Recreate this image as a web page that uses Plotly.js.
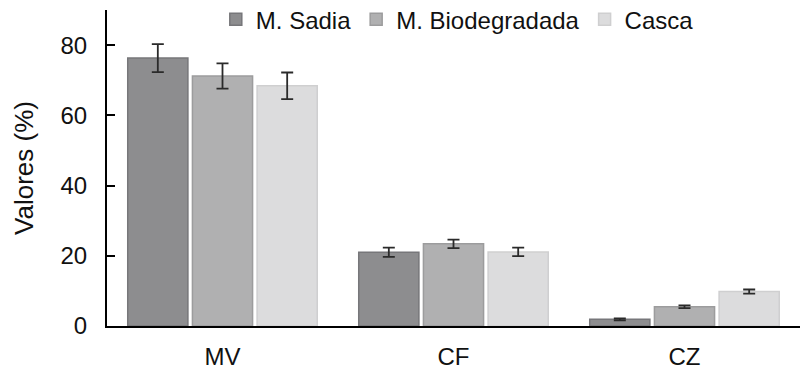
<!DOCTYPE html>
<html><head><meta charset="utf-8">
<script src="https://cdn.plot.ly/plotly-3.0.1.min.js"></script>
<style>body{margin:0;background:#fff}#c{width:810px;height:369px}</style>
</head><body><div id="c"></div>
<script>
const categories = ["MV", "CF", "CZ"];
const seriesNames = ["M. Sadia", "M. Biodegradada", "Casca"];
const sadia = [76.3, 21.0, 1.9];
const sadiaErr = [4.0, 1.3, 0.3];
const biod = [71.2, 23.4, 5.5];
const biodErr = [3.6, 1.2, 0.4];
const casca = [68.4, 21.1, 9.8];
const cascaErr = [3.8, 1.2, 0.6];

const fills = ["#8d8d8f", "#b0b0b1", "#dcdcdd"];
const lines = ["#77777a", "#9c9c9d", "#cfcfd0"];
const vals = [sadia, biod, casca];
const errs = [sadiaErr, biodErr, cascaErr];

const traces = seriesNames.map((n, i) => ({
  type: "bar", name: n, x: categories, y: vals[i],
  marker: {color: fills[i], line: {color: lines[i], width: 1.5}},
  error_y: {type: "data", array: errs[i], visible: true, color: "#2a2a2a", thickness: 1.8, width: 6}
}));

const layout = {
  width: 810, height: 369,
  margin: {l: 107, r: 10, t: 10, b: 43, autoexpand: false},
  paper_bgcolor: "#fff", plot_bgcolor: "#fff",
  font: {family: "Liberation Sans, Arial, sans-serif", color: "#111", size: 24},
  barmode: "group", bargap: 0.16, bargroupgap: 0.07,
  showlegend: true,
  legend: {orientation: "h", x: 0.157, y: 1.041, xanchor: "left", yanchor: "top",
    font: {size: 24}, bgcolor: "rgba(0,0,0,0)", itemwidth: 30, traceorder: "normal"},
  xaxis: {showline: true, linecolor: "#000", linewidth: 2, ticks: "", showgrid: false,
    tickfont: {size: 24}, ticklabelstandoff: 8},
  yaxis: {range: [0, 90], tickvals: [0, 20, 40, 60, 80], showline: true, linecolor: "#000",
    linewidth: 2, ticks: "inside", ticklen: 8, tickwidth: 2, tickcolor: "#000",
    showgrid: false, zeroline: false, tickfont: {size: 24}, ticklabelstandoff: 13,
    title: {text: "Valores (%)", font: {size: 26}, standoff: 19}}
};
Plotly.newPlot("c", traces, layout, {displayModeBar: false, staticPlot: true});
</script></body></html>
